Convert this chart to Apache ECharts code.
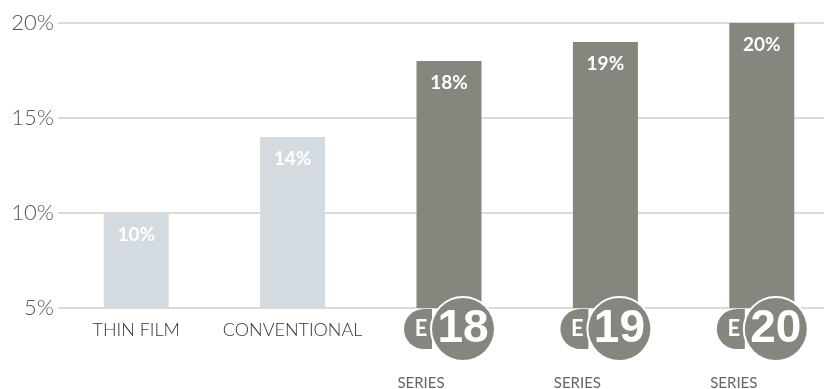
<!DOCTYPE html>
<html><head><meta charset="utf-8">
<script src="https://cdn.jsdelivr.net/npm/echarts@6/dist/echarts.min.js"></script>
<style>html,body{margin:0;padding:0;background:#fff}#c{width:824px;height:389px}</style>
</head><body><div id="c"></div>
<script>
const categories = ['THIN FILM', 'CONVENTIONAL', 'E18 SERIES', 'E19 SERIES', 'E20 SERIES'];
const efficiency = [10, 14, 18, 19, 20];
const valueLabels = ['10%', '14%', '18%', '19%', '20%'];

const LIGHT = '#d3dbe1', DARK = '#85867e';
const chart = echarts.init(document.getElementById('c'), null, {renderer: 'canvas'});
chart.setOption({
  animation: false,
  backgroundColor: '#fff',
  grid: {left: 58, width: 782, top: 23, bottom: 81, outerBoundsMode: 'none', containLabel: false},
  xAxis: {
    type: 'category', data: categories, z: 5,
    axisLine: {show: false}, axisTick: {show: false},
    axisLabel: {
      interval: 0, margin: -10,
      formatter: function (v) {
        const m = v.match(/^E(\d+) (.+)$/);
        if (m) return '{e|E}{num|' + m[1] + '}\n{ser|' + m[2] + '}';
        return '{plain|' + v + '}';
      },
      rich: {
        plain: {fontFamily: 'Lato', fontWeight: 300, fontSize: 18, color: '#333', lineHeight: 64},
        e: {fontFamily: 'Lato', fontWeight: 'bold', fontSize: 22, color: '#fff', backgroundColor: DARK,
            height: 40, width: 22, align: 'center', borderRadius: [20, 0, 0, 20], padding: [0, 0, 0, 6]},
        num: {fontFamily: 'Liberation Sans Narrow, Liberation Sans', fontWeight: 'bold', fontSize: 46, color: '#fff',
              backgroundColor: DARK, width: 62, height: 62, lineHeight: 62, align: 'center', borderRadius: 31,
              borderColor: '#fff', borderWidth: 2},
        ser: {fontFamily: 'Lato', fontSize: 15, color: '#666', lineHeight: 46, align: 'left', padding: [0, 56, 0, 0]}
      }
    }
  },
  yAxis: {
    type: 'value', min: 5, max: 20, interval: 5,
    axisLine: {show: false}, axisTick: {show: false},
    axisLabel: {formatter: '{value}%', fontFamily: 'Lato', fontWeight: 300, fontSize: 22, color: '#555', margin: 4},
    splitLine: {lineStyle: {color: '#cfcfcf', width: 1.5}}
  },
  series: [{
    type: 'bar', data: efficiency, barWidth: 65,
    itemStyle: {color: p => p.dataIndex < 2 ? LIGHT : DARK},
    label: {
      show: true, position: 'insideTop', distance: 12,
      formatter: p => valueLabels[p.dataIndex],
      color: '#fff', fontFamily: 'Lato', fontWeight: 'bold', fontSize: 19
    }
  }]
});
</script></body></html>
